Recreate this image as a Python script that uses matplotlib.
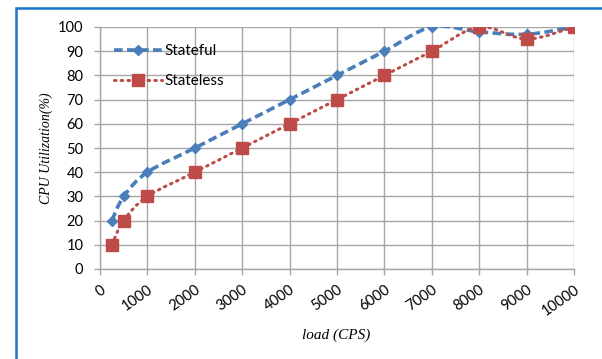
import matplotlib
matplotlib.use("Agg")
import matplotlib.pyplot as plt
from matplotlib.path import Path
from matplotlib.patches import PathPatch, Rectangle
from matplotlib.lines import Line2D
import numpy as np

# load levels (CPS) and measured CPU utilisation (%)
load_cps = [250, 500, 1000, 2000, 3000, 4000, 5000, 6000, 7000, 8000, 9000, 10000]
stateful = [20, 30, 40, 50, 60, 70, 80, 90, 100, 98, 97, 100]
stateless = [10, 20, 30, 40, 50, 60, 70, 80, 90, 100, 95, 100]
x_ticks = [0, 1000, 2000, 3000, 4000, 5000, 6000, 7000, 8000, 9000, 10000]
y_ticks = [0, 10, 20, 30, 40, 50, 60, 70, 80, 90, 100]

BLUE = "#4A7EBB"
RED = "#BE4B48"
GRID = "#A6A6A6"
BLUE_DASH = (0, (2.4, 1.2))
RED_DOT = (0, (0.5, 1.7))

fig = plt.figure(figsize=(6.02, 3.59), dpi=100)
ax = fig.add_axes([100 / 602, 1 - 269 / 359, 474 / 602, 242 / 359])


def smooth_path(xs, ys):
    """Cardinal (Catmull-Rom style) Bezier path through the points."""
    pts = np.column_stack([xs, ys]).astype(float)
    n = len(pts)
    verts = [pts[0]]
    codes = [Path.MOVETO]
    for i in range(n - 1):
        p0 = pts[i - 1] if i > 0 else pts[i]
        p1 = pts[i]
        p2 = pts[i + 1]
        p3 = pts[i + 2] if i + 2 < n else pts[i + 1]
        c1 = p1 + (p2 - p0) / 6.0
        c2 = p2 - (p3 - p1) / 6.0
        verts += [c1, c2, p2]
        codes += [Path.CURVE4] * 3
    return Path(verts, codes)


ax.add_patch(PathPatch(smooth_path(load_cps, stateful), facecolor="none",
                       edgecolor=BLUE, lw=2.6, linestyle=BLUE_DASH,
                       transform=ax.transData, zorder=3))
ax.add_patch(PathPatch(smooth_path(load_cps, stateless), facecolor="none",
                       edgecolor=RED, lw=2.2, linestyle=RED_DOT, capstyle="round",
                       transform=ax.transData, zorder=3))

ax.plot(load_cps, stateful, linestyle="none", marker="D", ms=5.5, color=BLUE, zorder=4)
ax.plot(load_cps, stateless, linestyle="none", marker="s", ms=8, color=RED, zorder=4)

ax.set_xlim(0, 10000)
ax.set_ylim(0, 100)
ax.set_xticks(x_ticks)
ax.set_yticks(y_ticks)
ax.grid(True, color=GRID, lw=1)
ax.set_axisbelow(True)
for s in ["top", "right"]:
    ax.spines[s].set_visible(False)
for s in ["left", "bottom"]:
    ax.spines[s].set_color(GRID)
    ax.spines[s].set_linewidth(1)
ax.tick_params(axis="both", length=4, width=1, color=GRID, labelsize=10.5)
ax.tick_params(axis="y", pad=8)
ax.tick_params(axis="x", pad=6)
ax.set_yticklabels([str(v) for v in y_ticks], fontfamily="Lato")
ax.set_xticklabels([str(v) for v in x_ticks], fontfamily="Lato", rotation=35,
                   ha="right", va="top", rotation_mode="anchor")

ax.set_ylabel("CPU Utilization(%)", fontfamily="Liberation Serif", style="italic",
              fontsize=10)
ax.yaxis.set_label_coords(-0.099, 0.5)
ax.set_xlabel("load (CPS)", fontfamily="Liberation Serif", style="italic",
              fontsize=11)
ax.xaxis.set_label_coords(0.498, -0.244)

handles = [
    Line2D([], [], color=BLUE, lw=2.6, linestyle=BLUE_DASH, marker="D", ms=5.5),
    Line2D([], [], color=RED, lw=2.2, linestyle=RED_DOT, marker="s", ms=8,
           dash_capstyle="round"),
]
ax.legend(handles, ["Stateful", "Stateless"], loc="upper left",
          bbox_to_anchor=(0.03, 0.93), frameon=False, borderpad=0,
          borderaxespad=0, handlelength=3.1, handletextpad=0.2,
          labelspacing=1.05, prop={"family": "Lato", "size": 11})

# blue border framing the figure
fig.patches.append(Rectangle((16 / 602, -0.1), 1.2, 1 - 8 / 359 + 0.1,
                             transform=fig.transFigure, fill=False,
                             edgecolor="#1874CD", lw=1.8, clip_on=False))

fig.savefig("out.png", dpi=100)
